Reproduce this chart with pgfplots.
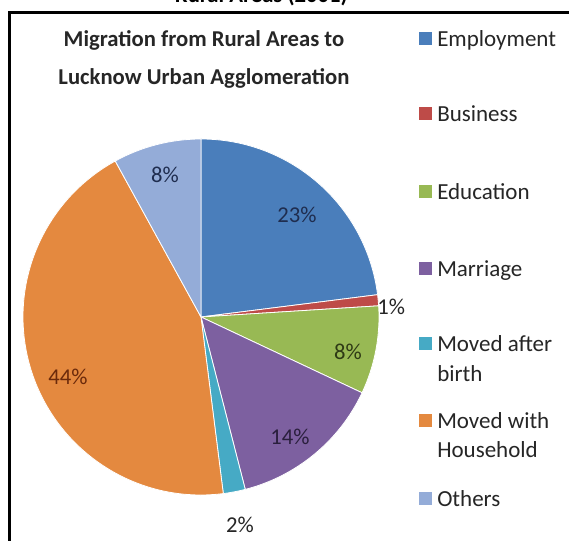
\documentclass[border=0pt]{standalone}
\usepackage{pgfplots}
\pgfplotsset{compat=1.18}
\usepackage{fontspec}
\setmainfont{Carlito}
\definecolor{cEmp}{HTML}{4A7EBB}
\definecolor{cBus}{HTML}{BE4B48}
\definecolor{cEdu}{HTML}{98B954}
\definecolor{cMar}{HTML}{7D60A0}
\definecolor{cMab}{HTML}{46AAC5}
\definecolor{cMwh}{HTML}{E4893F}
\definecolor{cOth}{HTML}{94ACD8}
\definecolor{tNavy}{HTML}{1F2D4F}
\definecolor{tGreen}{HTML}{2E3A15}
\definecolor{tPurp}{HTML}{2A1F3D}
\definecolor{tBrown}{HTML}{6B2A0B}
\definecolor{tGray}{HTML}{262626}
% data (percent)
\def\vEmp{23}\def\vBus{1}\def\vEdu{8}\def\vMar{14}\def\vMab{2}\def\vMwh{44}\def\vOth{8}
\pgfmathsetmacro\aA{90}
\pgfmathsetmacro\aB{\aA-3.6*\vEmp}
\pgfmathsetmacro\aC{\aB-3.6*\vBus}
\pgfmathsetmacro\aD{\aC-3.6*\vEdu}
\pgfmathsetmacro\aE{\aD-3.6*\vMar}
\pgfmathsetmacro\aF{\aE-3.6*\vMab}
\pgfmathsetmacro\aG{\aF-3.6*\vMwh}
\pgfmathsetmacro\aH{\aG-3.6*\vOth}
\def\R{133.5pt}
\newcommand\slice[3]{\fill[#1, draw=white, line width=0.6pt] (axis cs:0,0) -- ++(#2:\R) arc[start angle=#2, end angle=#3, radius=\R] -- cycle;}
\begin{document}
\begin{tikzpicture}[x=0.75pt,y=0.75pt]
\useasboundingbox (0,0) rectangle (569,541);
\clip (0,0) rectangle (569,541);
\fill[white] (0,0) rectangle (569,541);
% cut-off outer title
\node[anchor=base east, font=\bfseries\fontsize{17}{20}\selectfont, inner sep=0] at (348,538.5) {Rural Areas (2001)};
% frame
\draw[black, line width=2.25pt] (9.5,-5) -- (9.5,528) -- (575,528);
% chart title
\node[anchor=base, font=\bfseries\fontsize{17}{20}\selectfont, text=black!85, inner sep=0] at (204,494) {Migration from Rural Areas to};
\node[anchor=base, font=\bfseries\fontsize{17}{20}\selectfont, text=black!85, inner sep=0] at (204,456) {Lucknow Urban Agglomeration};
\begin{axis}[at={(150.75pt,168pt)}, anchor=origin, x=133.5pt, y=133.5pt,
  xmin=-1, xmax=1, ymin=-1, ymax=1, hide axis, clip=false]
\slice{cEmp}{\aA}{\aB}
\slice{cBus}{\aB}{\aC}
\slice{cEdu}{\aC}{\aD}
\slice{cMar}{\aD}{\aE}
\slice{cMab}{\aE}{\aF}
\slice{cMwh}{\aF}{\aG}
\slice{cOth}{\aG}{\aH}
\begin{scope}[font=\fontsize{17}{20}\selectfont]
\node[text=tNavy] at (axis cs:0.539,0.573) {23\%};
\node[text=tGray] at (axis cs:1.068,0.056) {1\%};
\node[text=tGreen] at (axis cs:0.826,-0.197) {8\%};
\node[text=tPurp] at (axis cs:0.500,-0.674) {14\%};
\node[text=tGray] at (axis cs:0.219,-1.169) {2\%};
\node[text=tBrown] at (axis cs:-0.747,-0.337) {44\%};
\node[text=tNavy] at (axis cs:-0.202,0.798) {8\%};
\end{scope}
\end{axis}
% legend
\begin{scope}[font=\fontsize{17.25}{22}\selectfont]
\newcommand\leg[3]{%
  \fill[#1] (419,541-#2+2) rectangle (432,541-#2+15);
  \node[anchor=base west, inner sep=0, text=black!85] at (437,541-#2) {#3};}
\leg{cEmp}{47}{Employment}
\leg{cBus}{122}{Business}
\leg{cEdu}{200}{Education}
\leg{cMar}{277}{Marriage}
\leg{cMab}{352}{Moved after}
\node[anchor=base west, inner sep=0, text=black!85] at (437,541-382) {birth};
\leg{cMwh}{429}{Moved with}
\node[anchor=base west, inner sep=0, text=black!85] at (437,541-458) {Household};
\leg{cOth}{507}{Others}
\end{scope}
\end{tikzpicture}
\end{document}
